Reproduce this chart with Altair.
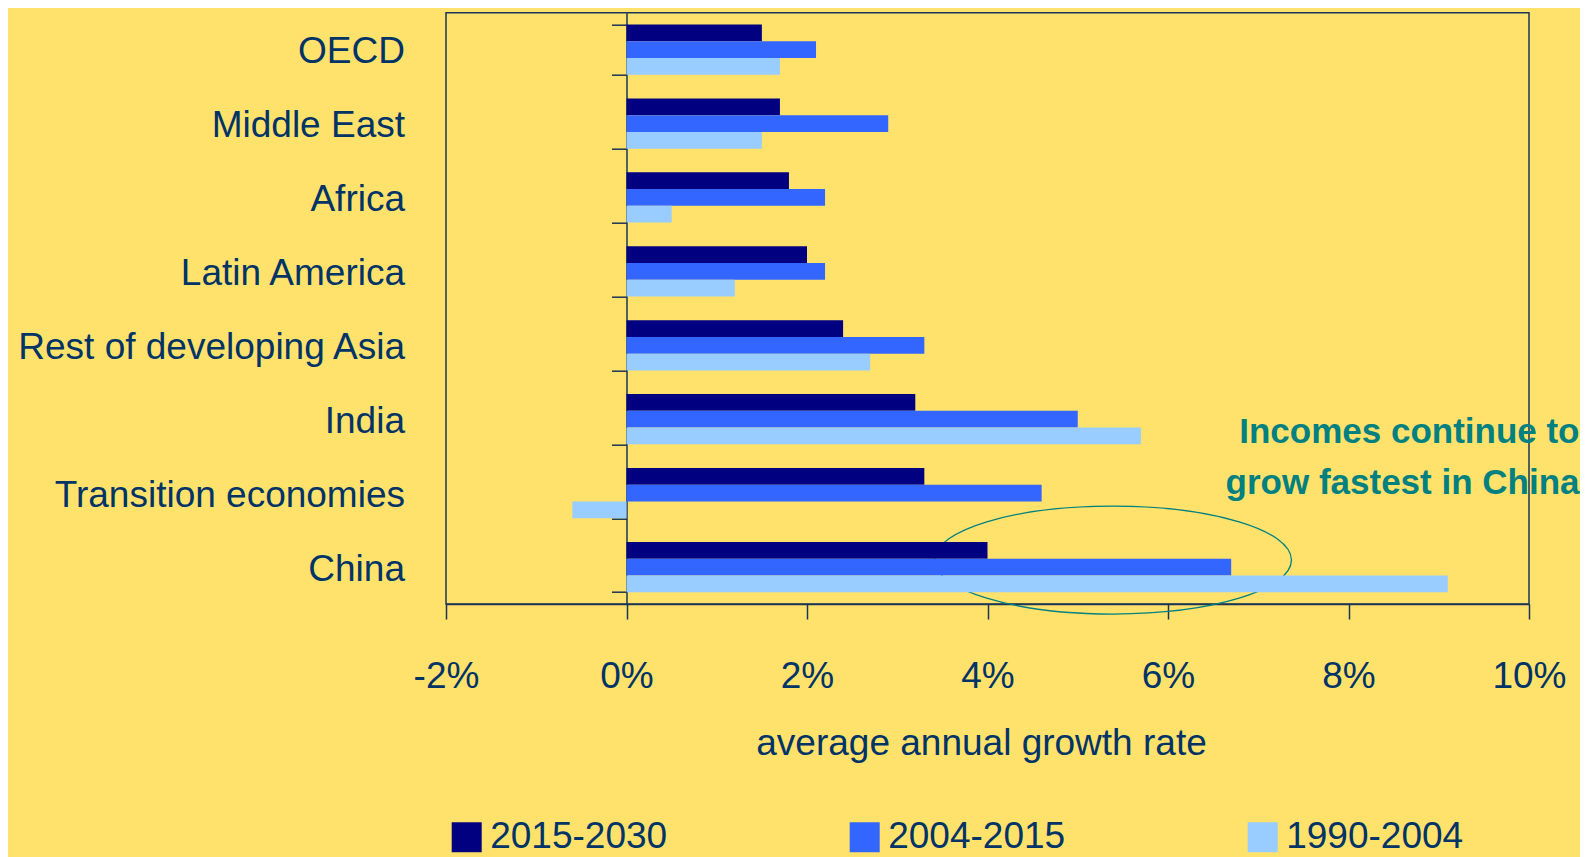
import altair as alt
import pandas as pd

categories = ["OECD", "Middle East", "Africa", "Latin America",
              "Rest of developing Asia", "India", "Transition economies", "China"]
series = ["2015-2030", "2004-2015", "1990-2004"]
s_2015_2030 = [1.5, 1.7, 1.8, 2.0, 2.4, 3.2, 3.3, 4.0]
s_2004_2015 = [2.1, 2.9, 2.2, 2.2, 3.3, 5.0, 4.6, 6.7]
s_1990_2004 = [1.7, 1.5, 0.5, 1.2, 2.7, 5.7, -0.6, 9.1]
colors = ["#000080", "#3366FF", "#99CCFF"]
x_ticks = [-2, 0, 2, 4, 6, 8, 10]

rows = []
for name, vals in zip(series, [s_2015_2030, s_2004_2015, s_1990_2004]):
    for c, v in zip(categories, vals):
        rows.append({"region": c, "period": name, "growth": v})
df = pd.DataFrame(rows)

FONT = "Liberation Sans, Arial, sans-serif"
TEXT = "#003366"
LINE = "#1A3556"
TEAL = "#008080"
FS = 37

W, H = 1083, 591.3

x_enc = alt.X("growth:Q",
              scale=alt.Scale(domain=[-2, 10], nice=False, zero=False),
              axis=alt.Axis(values=x_ticks, labelExpr="datum.value + '%'",
                            title="average annual growth rate",
                            grid=False, domain=True, domainColor=LINE, domainWidth=1.5,
                            tickColor=LINE, tickSize=15, tickWidth=1.5,
                            labelPadding=68, labelBaseline="alphabetic", labelFlush=False,
                            labelFontSize=FS, labelColor=TEXT, labelFont=FONT,
                            titleFont=FONT, titleFontSize=FS, titleFontWeight="normal",
                            titleColor=TEXT, titleBaseline="alphabetic",
                            titleX=535, titleY=150, titleAlign="center"))
y_enc = alt.Y("region:N", sort=categories,
              scale=alt.Scale(domain=categories, paddingInner=0.32, paddingOuter=0.16),
              axis=alt.Axis(title=None, offset=-180.5, tickBand="extent",
                            domain=True, domainColor=LINE, domainWidth=1.5,
                            tickColor=LINE, tickSize=15, tickWidth=1.5,
                            labelPadding=207, labelOffset=2, labelFontSize=FS,
                            labelColor=TEXT, labelFont=FONT, labelLimit=600,
                            labelAlign="right"))

base = alt.Chart(df)

ellipse = alt.Chart(pd.DataFrame({"growth": [5.39], "region": ["China"]})).mark_point(
    shape="M-1,0A1,0.3025,0,1,1,1,0A1,0.3025,0,1,1,-1,0Z",
    size=357 * 357, filled=False, stroke=TEAL, strokeWidth=1.3, yOffset=-7, opacity=1
).encode(x=alt.X("growth:Q"), y=alt.Y("region:N", sort=categories))

bars = base.mark_bar().encode(
    x=x_enc,
    y=y_enc,
    yOffset=alt.YOffset("period:N", sort=series,
                        scale=alt.Scale(domain=series, paddingInner=0, paddingOuter=0)),
    color=alt.Color("period:N", sort=series,
                    scale=alt.Scale(domain=series, range=colors),
                    legend=alt.Legend(title=None, orient="none", legendX=2.2, legendY=805.8,
                                      direction="horizontal", columns=3, columnPadding=179,
                                      symbolType="square", symbolSize=900,
                                      symbolStrokeWidth=0, labelOffset=5,
                                      labelFont=FONT, labelFontSize=FS, labelColor=TEXT,
                                      labelLimit=400)),
)

note = alt.Chart(pd.DataFrame({"growth": [10], "region": ["Transition economies"]})).mark_text(
    text=["Incomes continue to", "grow fastest in China"],
    align="right", baseline="alphabetic", dx=50.5, dy=-50.4, lineHeight=51.7,
    font=FONT, fontSize=35, fontWeight="bold", color=TEAL
).encode(x=alt.X("growth:Q"), y=alt.Y("region:N", sort=categories))

chart = alt.layer(ellipse, bars, note).properties(
    width=W, height=H,
    autosize=alt.AutoSizeParams(type="none"),
    padding={"left": 438, "top": 4.7, "right": 51, "bottom": 253},
    background="#FFE26C",
).configure(font=FONT).configure_view(stroke=LINE, strokeWidth=1.5, strokeOpacity=1)

chart.save("out.html", embed_options={"renderer": "svg", "actions": False})
